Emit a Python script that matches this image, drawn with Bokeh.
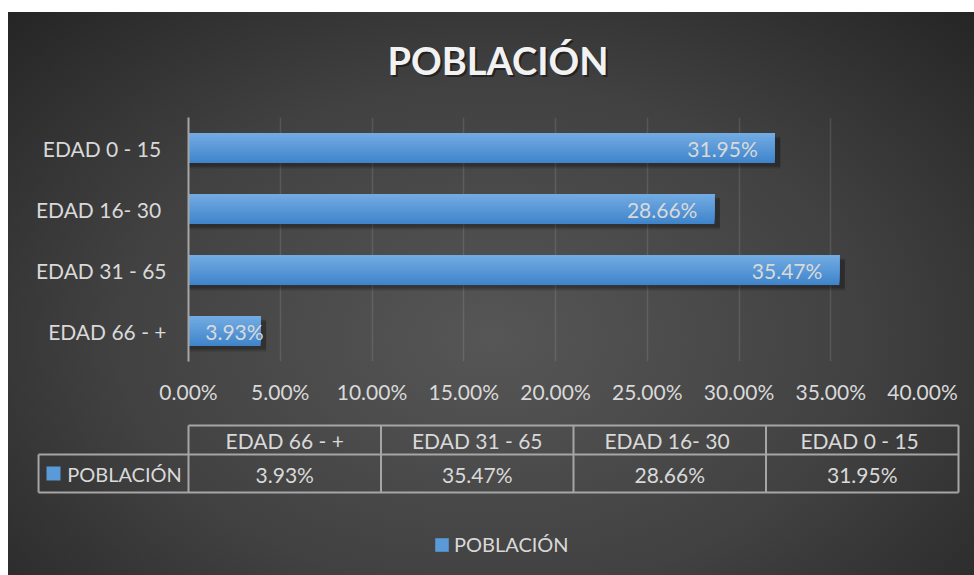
from bokeh.plotting import figure
from bokeh.models import (ColumnDataSource, FactorRange, Range1d, FixedTicker,
                          NumeralTickFormatter, Legend, LegendItem)
from bokeh.transform import dodge
from bokeh.layouts import column
from bokeh.core.properties import value
from bokeh.embed import file_html
from bokeh.resources import INLINE

# ---------------- data ----------------
title_text = "POBLACIÓN"
series_name = "POBLACIÓN"
categories = ["EDAD 66 - +", "EDAD 31 - 65", "EDAD  16- 30", "EDAD  0 - 15"]
values = [0.0393, 0.3547, 0.2866, 0.3195]
value_labels = ["3.93%", "35.47%", "28.66%", "31.95%"]
x_ticks = [0.0, 0.05, 0.10, 0.15, 0.20, 0.25, 0.30, 0.35, 0.40]

# ---------------- style ----------------
FONT = "Lato"
TXT = "#d9d9d9"
FS = "21px"
FS_NAME = "20px"
W = 966
H_HEAD = 105
H_MAIN = 293
H_TAB = 165
BAR_H = 0.49


def bare(fig):
    fig.background_fill_alpha = 0
    fig.border_fill_alpha = 0
    fig.outline_line_color = None
    fig.frame_align = False
    return fig


# ---------------- title ----------------
ph = bare(figure(width=W, height=H_HEAD, x_range=Range1d(8, 974),
                 y_range=Range1d(117, 12), x_axis_location=None,
                 y_axis_location=None, output_backend="svg",
                 toolbar_location=None, min_border=0))
ph.grid.visible = False
ph.text(x=[499.5], y=[61.7], text=[title_text], text_align='center',
        text_baseline='middle', text_color="black", text_alpha=0.45,
        text_font=value(FONT), text_font_style="bold", text_font_size="38px")
ph.text(x=[497.5], y=[59.7], text=[title_text], text_align='center',
        text_baseline='middle', text_color="#f2f2f2",
        text_font=value(FONT), text_font_style="bold", text_font_size="38px")

# ---------------- main chart ----------------
p = bare(figure(width=W, height=H_MAIN,
                y_range=FactorRange(factors=categories, range_padding=0),
                x_range=Range1d(0, 0.40),
                output_backend="svg", toolbar_location=None,
                min_border_left=180, min_border_right=52,
                min_border_top=0, min_border_bottom=49))

src = ColumnDataSource(dict(
    cat=categories, val=values, lbl=value_labels,
    sh=[v + 0.003 for v in values],
    lx=[max(v, 0.0502) for v in values],
))

# soft shadow
p.hbar(y=dodge('cat', -0.06, range=p.y_range), left=0, right='sh', height=BAR_H,
       fill_color="black", fill_alpha=0.2, line_color=None, source=src)
p.hbar(y=dodge('cat', -0.09, range=p.y_range), left=0, right='sh', height=BAR_H,
       fill_color="black", fill_alpha=0.15, line_color=None, source=src)

# vertical gradient bar: nested bars anchored at the top edge
N = 14
top = (0x72, 0xab, 0xe2)
bot = (0x40, 0x85, 0xcc)
for k in range(N):
    f = k / (N - 1)
    c = tuple(int(round(bot[i] + (top[i] - bot[i]) * f)) for i in range(3))
    col = "#%02x%02x%02x" % c
    h = BAR_H * (N - k) / N
    off = BAR_H / 2 - h / 2
    p.hbar(y=dodge('cat', off, range=p.y_range), left=0, right='val',
           height=h, fill_color=col, line_color=None, source=src)

p.text(x='lx', y='cat', text='lbl', source=src, text_align='right',
       text_baseline='middle', x_offset=-17, text_color=TXT,
       text_font=value(FONT), text_font_size=FS)

# axes & grid
p.xaxis.ticker = FixedTicker(ticks=x_ticks)
p.xaxis.formatter = NumeralTickFormatter(format="0.00%")
p.xaxis.axis_line_color = None
p.xaxis.major_tick_line_color = None
p.xaxis.minor_tick_line_color = None
p.xaxis.major_tick_out = 0
p.xaxis.major_tick_in = 0
p.xaxis.major_label_standoff = 17
p.xaxis.major_label_text_color = TXT
p.xaxis.major_label_text_font = FONT
p.xaxis.major_label_text_font_size = FS

p.yaxis.axis_line_color = "#a6a6a6"
p.yaxis.axis_line_width = 2
p.yaxis.major_tick_line_color = None
p.yaxis.minor_tick_line_color = None
p.yaxis.major_tick_out = 0
p.yaxis.major_tick_in = 0
p.yaxis.major_label_standoff = 22
p.yaxis.major_label_text_color = TXT
p.yaxis.major_label_text_font = FONT
p.yaxis.major_label_text_font_size = FS

p.ygrid.visible = False
p.xgrid.grid_line_color = "white"
p.xgrid.grid_line_alpha = 0.11
p.xgrid.grid_line_width = 1.5

# ---------------- data table + legend ----------------
pt = bare(figure(width=W, height=H_TAB,
                 x_range=Range1d(-0.9351, 4.0831), y_range=Range1d(575, 410),
                 x_axis_location=None, y_axis_location=None,
                 output_backend="svg", toolbar_location=None, min_border=0))
pt.grid.visible = False

n = len(categories)
ROW_L = -0.779
Y_TOP, Y_MID, Y_BOT = 425, 454, 492
LINE = "#a6a6a6"
pt.segment(x0=[0, ROW_L, ROW_L], x1=[n, n, n], y0=[Y_TOP, Y_MID, Y_BOT],
           y1=[Y_TOP, Y_MID, Y_BOT], line_color=LINE, line_width=2)
pt.segment(x0=list(range(n + 1)) + [ROW_L], x1=list(range(n + 1)) + [ROW_L],
           y0=[Y_TOP] * (n + 1) + [Y_MID], y1=[Y_BOT] * (n + 2),
           line_color=LINE, line_width=2)

tsrc = ColumnDataSource(dict(x=[i + 0.5 for i in range(n)], cat=categories,
                             lbl=value_labels))
pt.text(x='x', y=440, text='cat', source=tsrc, text_align='center',
        text_baseline='middle', text_color=TXT, text_font=value(FONT),
        text_font_size=FS)
pt.text(x='x', y=474, text='lbl', source=tsrc, text_align='center',
        text_baseline='middle', text_color=TXT, text_font=value(FONT),
        text_font_size=FS)

sq = pt.rect(x=[-0.7013], y=[473], width=14 / 192.5, height=14,
             fill_color="#5a9ad9", line_color=None)
pt.text(x=[-0.630], y=[473], text=[series_name], text_align='left',
        text_baseline='middle', text_color=TXT, text_font=value(FONT),
        text_font_size=FS_NAME)

legend = Legend(items=[LegendItem(label=series_name, renderers=[sq])],
                location=(425, 19), orientation='horizontal',
                glyph_width=17, glyph_height=17, label_standoff=4,
                padding=0, margin=0, border_line_color=None,
                background_fill_alpha=0, label_text_color=TXT,
                label_text_font=FONT, label_text_font_size=FS_NAME)
pt.add_layout(legend)

layout = column(ph, p, pt, spacing=0, styles={
    "margin-left": "8px", "margin-top": "12px",
    "background": "radial-gradient(ellipse farthest-corner at 50% 58%, "
                  "#565656 0%, #414141 55%, #252525 100%)"})

open("out.html", "w").write(file_html(layout, INLINE))
